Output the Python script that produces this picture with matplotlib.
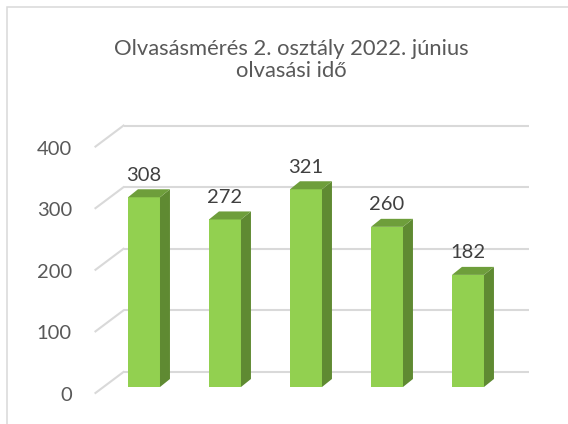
import numpy as np
from matplotlib import pyplot as plt
from matplotlib.patches import Polygon, Rectangle

plt.rcParams['font.family'] = ['Lato', 'DejaVu Sans']

# data
categories = ['1', '2', '3', '4', '5']
values = [308, 272, 321, 260, 182]
y_ticks = [0, 100, 200, 300, 400]
title = 'Olvasásmérés 2. osztály 2022. június\nolvasási idő'

# colours
front_col = '#92D050'
side_col = '#5F8A32'
top_col = '#6E9E3B'
grid_col = '#D9D9D9'
text_col = '#595959'
label_col = '#404040'

# 3d look offsets (data units)
wall_dx, wall_dy = 0.247, 24.4      # bar plane -> back wall
front_dx, front_dy = -0.099, -9.7   # bar plane -> front floor edge
bar_dx, bar_dy = 0.123, 13.0        # bar depth
bar_w = 0.395

W, H = 568, 424
fig = plt.figure(figsize=(W / 100, H / 100), dpi=100)
ax = fig.add_axes([103.5 / W, (H - 387) / H, 405 / W, 246.4 / H])
ax.set_xlim(-0.5, 4.5)
ax.set_ylim(0, 400)
ax.axis('off')

# outer chart frame (only top and left visible)
fig.add_artist(Rectangle((7 / W, -1), 2, 1 + (H - 7) / H, transform=fig.transFigure,
                         fill=False, ec=grid_col, lw=1.1))

x = np.arange(len(values))
x0, x1 = -0.5, 4.5

# back wall gridlines and the diagonals on the left side wall
for t in y_ticks:
    ax.plot([x0 + wall_dx, x1 + wall_dx], [t + wall_dy, t + wall_dy], color=grid_col,
            lw=1.5, clip_on=False, zorder=1, solid_capstyle='butt')
    ax.plot([x0 + front_dx, x0 + wall_dx], [t + front_dy, t + wall_dy], color=grid_col,
            lw=1.5, clip_on=False, zorder=1)
    ax.text(-0.89, t + front_dy - 4, str(t), ha='right', va='center', fontsize=14.5,
            color=text_col)

# bars
ax.bar(x, values, width=bar_w, color=front_col, zorder=3)
for xi, v in zip(x, values):
    r = xi + bar_w / 2
    l = xi - bar_w / 2
    side = Polygon([(r, 0), (r + bar_dx, bar_dy), (r + bar_dx, v + bar_dy), (r, v)],
                   closed=True, fc=side_col, ec='none', zorder=3, clip_on=False)
    top = Polygon([(l, v), (r, v), (r + bar_dx, v + bar_dy), (l + bar_dx, v + bar_dy)],
                  closed=True, fc=top_col, ec='none', zorder=3, clip_on=False)
    ax.add_patch(side)
    ax.add_patch(top)
    ax.annotate(str(v), (xi, v + bar_dy), xytext=(0, 4), textcoords='offset points',
                ha='center', va='bottom', fontsize=14.5, color=label_col)

fig.text(291 / W, 1 - 60 / H, title, ha='center', va='center', fontsize=15.8,
         color=text_col, linespacing=1.12)

fig.savefig('out.png', dpi=100)
